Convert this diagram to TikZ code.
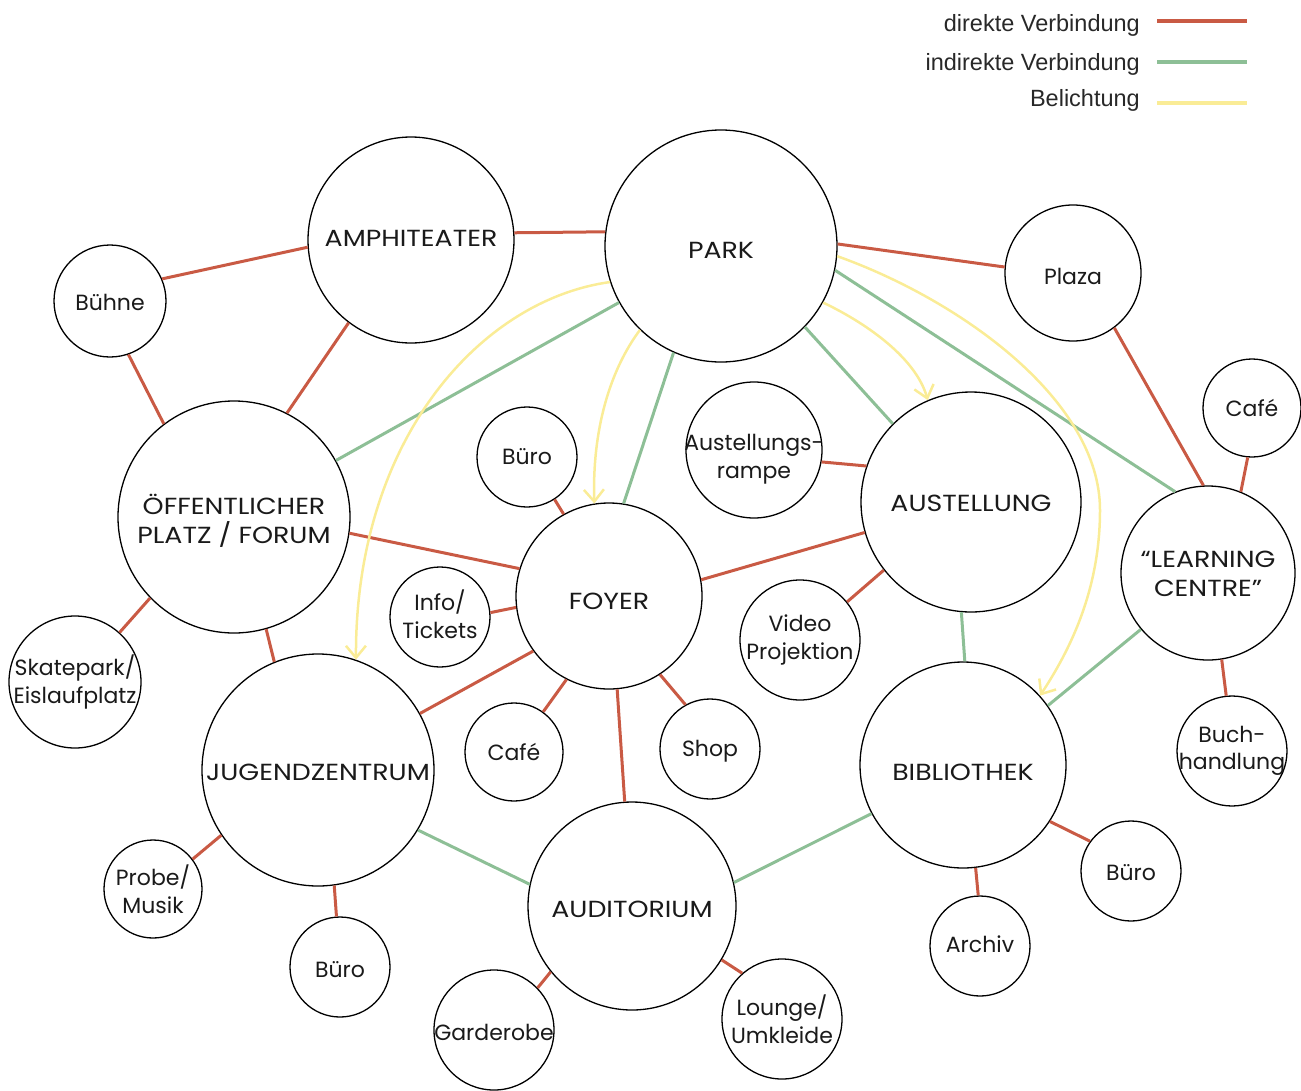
\documentclass[tikz,border=0pt]{standalone}
\usepackage{fontspec}
\setmainfont{Poppins}
\newfontfamily\capsfont[FakeStretch=1.15]{Poppins}
\newfontfamily\legendfont{Liberation Sans}
\usetikzlibrary{arrows.meta}
\definecolor{dirc}{RGB}{201,90,68}
\definecolor{indc}{RGB}{141,191,150}
\definecolor{lightc}{RGB}{250,236,150}
\definecolor{txtc}{RGB}{26,26,26}
\definecolor{legc}{RGB}{40,40,40}
\begin{document}
\begin{tikzpicture}[x=1pt,y=-1pt,
  ring/.style={circle,draw=black,line width=1.3pt,fill=white,inner sep=0pt},
  lab/.style={inner sep=0pt,align=center,text=txtc,font=\fontsize{22}{27.5}\selectfont},
  caplab/.style={lab,font=\capsfont\fontsize{23.3}{29}\selectfont},
  bub/.style n args={3}{ring,minimum size=#1,label={[lab,yshift=#2]center:{#3}}},
  big/.style n args={3}{ring,minimum size=#1,label={[caplab,yshift=#2]center:{#3}}},
  dir/.style={draw=dirc,line width=3pt},
  ind/.style={draw=indc,line width=3pt},
  lit/.style={draw=lightc,line width=2.5pt,-{Straight Barb[length=12pt,width=20pt]}},
  leg/.style={anchor=base east,font=\legendfont\fontsize{23.5}{28}\selectfont,text=legc,inner sep=0pt},
  legline/.style={line width=3.2pt}]
\useasboundingbox (0,0) rectangle (1301,1090);

% legend
\node[leg] (t1) at (1140,31) {direkte Verbindung};
\node[leg] (t2) at (1140,70) {indirekte Verbindung};
\node[leg] (t3) at (1140,106) {Belichtung};
\coordinate (l1a) at (1157,21); \coordinate (l1b) at (1247,21);
\coordinate (l2a) at (1157,62); \coordinate (l2b) at (1247,62);
\coordinate (l3a) at (1157,103); \coordinate (l3b) at (1247,103);
\draw[legline,draw=dirc] (l1a) -- (l1b);
\draw[legline,draw=indc] (l2a) -- (l2b);
\draw[legline,draw=lightc] (l3a) -- (l3b);

% nodes
\node[big={232pt}{-4pt}{PARK}] (P) at (721,246) {};
\node[big={206pt}{2pt}{AMPHITEATER}] (A) at (411,240) {};
\node[bub={112pt}{-1pt}{Bühne}] (B) at (110,301) {};
\node[bub={136pt}{-3pt}{Plaza}] (Pl) at (1073,273) {};
\node[bub={98pt}{0pt}{Café}] (CR) at (1252,408) {};
\node[big={232pt}{-4pt}{ÖFFENTLICHER\\PLATZ / FORUM}] (F) at (234,517) {};
\node[bub={100pt}{0pt}{Büro}] (BT) at (527,457) {};
\node[bub={136pt}{-9pt}{Austellungs-\\rampe}] (R) at (754,450) {};
\node[big={220pt}{-1pt}{AUSTELLUNG}] (AU) at (971,502) {};
\node[big={174pt}{-1pt}{“LEARNING\\CENTRE”}] (L) at (1208,573) {};
\node[big={186pt}{-5pt}{FOYER}] (FO) at (609,596) {};
\node[bub={100pt}{3pt}{Info/\\Tickets}] (I) at (440,617) {};
\node[bub={132pt}{0pt}{Skatepark/\\Eislaufplatz}] (S) at (75,682) {};
\node[big={232pt}{-2pt}{JUGENDZENTRUM}] (J) at (318,770) {};
\node[bub={120pt}{0pt}{Video\\Projektion}] (V) at (800,640) {};
\node[bub={98pt}{0pt}{Café}] (CC) at (514,752) {};
\node[bub={100pt}{-2pt}{Shop}] (SH) at (710,749) {};
\node[big={206pt}{-7pt}{BIBLIOTHEK}] (BI) at (963,765) {};
\node[bub={110pt}{0pt}{Buch-\\handlung}] (BU) at (1232,751) {};
\node[bub={98pt}{0pt}{Probe/\\Musik}] (PR) at (153,889) {};
\node[bub={100pt}{-3pt}{Büro}] (BJ) at (340,967) {};
\node[big={208pt}{-3pt}{AUDITORIUM}] (AD) at (632,906) {};
\node[bub={100pt}{-2pt}{Büro}] (BB) at (1131,871) {};
\node[bub={100pt}{2pt}{Archiv}] (AR) at (980,946) {};
\node[bub={120pt}{-2pt}{Garderobe}] (G) at (494,1030) {};
\node[bub={120pt}{0pt}{Lounge/\\Umkleide}] (LO) at (782,1019) {};

% direct connections
\draw[dir] (B.23.7) -- (A.184.4);
\draw[dir] (A.4.4) -- (P.173.6);
\draw[dir] (P.1.5) -- (Pl.175);
\draw[dir] (B.-71.2) -- (F.127.2);
\draw[dir] (A.233.4) -- (F.63.4);
\draw[dir] (F.-8.3) -- (FO.163.7);
\draw[dir] (F.224.7) -- (S.48.7);
\draw[dir] (F.-74.2) -- (J.112.8);
\draw[dir] (BT.-57.9) -- (FO.119.6);
\draw[dir] (I.5.8) -- (FO.187.5);
\draw[dir] (FO.216.4) -- (J.29.2);
\draw[dir] (FO.243.4) -- (CC.54.1);
\draw[dir] (FO.-57) -- (SH.119.7);
\draw[dir] (FO.-85.7) -- (AD.94.4);
\draw[dir] (FO.10.4) -- (AU.196.2);
\draw[dir] (R.-10) -- (AU.161.7);
\draw[dir] (AU.218.7) -- (V.39.7);
\draw[dir] (Pl.-53.6) -- (L.93.4);
\draw[dir] (CR.-95.8) -- (L.68.4);
\draw[dir] (L.-81.5) -- (BU.96.3);
\draw[dir] (J.214.5) -- (PR.37.8);
\draw[dir] (J.-82.6) -- (BJ.94.7);
\draw[dir] (AD.219.1) -- (G.44.3);
\draw[dir] (AD.-31) -- (LO.131);
\draw[dir] (BI.-83.4) -- (AR.92.3);
\draw[dir] (BI.-33.2) -- (BB.144.7);

% indirect connections
\draw[ind] (P.209.4) -- (F.29.2);
\draw[ind] (P.246.1) -- (FO.81.9);
\draw[ind] (P.-44) -- (AU.135);
\draw[ind] (P.-12.8) -- (L.112.2);
\draw[ind] (AU.-95.2) -- (BI.89.4);
\draw[ind] (L.220.9) -- (BI.35);
\draw[ind] (J.-31) -- (AD.168.8);
\draw[ind] (AD.13.1) -- (BI.208.3);

% light
\draw[lit] (P.198.7) .. controls (480,300) and (355,440) .. (J.71.9);
\draw[lit] (P.226) .. controls (610,370) and (592,430) .. (FO.99.4);
\draw[lit] (P.-29.4) .. controls (860,320) and (915,355) .. (AU.113.3);
\draw[lit] (P.-5.9) .. controls (960,300) and (1100,400) .. (1100,510) .. controls (1100,590) and (1070,650) .. (BI.42.3);
\end{tikzpicture}
\end{document}
